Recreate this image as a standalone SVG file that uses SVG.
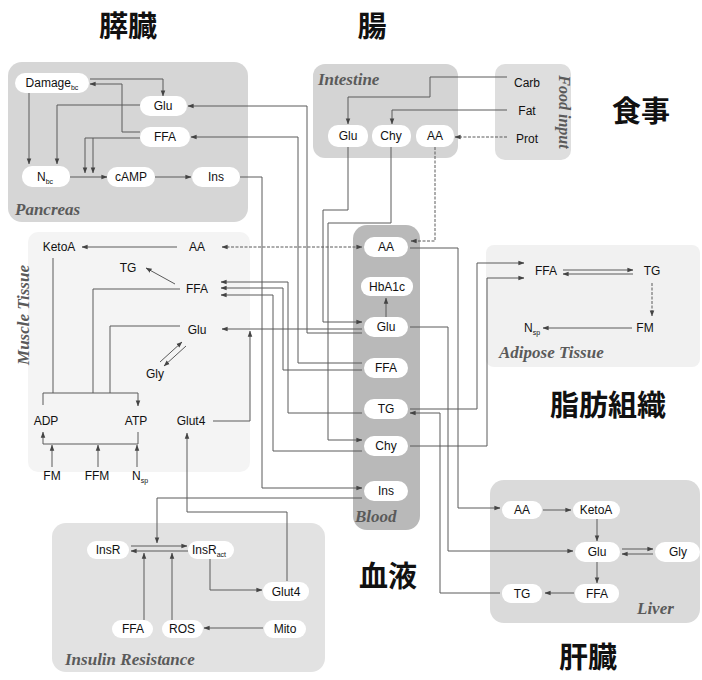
<svg xmlns="http://www.w3.org/2000/svg" width="702" height="680" viewBox="0 0 702 680">
<defs>
<marker id="a" viewBox="0 0 8 8" refX="7.5" refY="4" markerWidth="6" markerHeight="6" orient="auto-start-reverse"><path d="M0,1 L8,4 L0,7z" fill="#444"/></marker>
<style>
.pill{fill:#fff}
.t{font-family:"Liberation Sans",Arial,sans-serif;font-size:12px;fill:#111;text-anchor:middle}
.sub{font-size:7px}
.lbl{font-family:"Liberation Serif","Times New Roman",serif;font-style:italic;font-weight:bold;font-size:17px;fill:#5a5a5a}
.cjk{font-family:"Noto Sans CJK JP","Noto Sans CJK SC",sans-serif;font-weight:bold;font-size:29px;fill:#111;text-anchor:middle}
.c{fill:none;stroke:#5a5a5a;stroke-width:1}
.c2{fill:none;stroke:#5a5a5a;stroke-width:1;stroke-dasharray:3 1.5}
</style>
</defs>
<rect width="702" height="680" fill="#fff"/>

<g id="panels">
<rect x="8" y="62" width="240" height="160" rx="14" fill="#d6d6d6"/>
<rect x="313" y="64" width="145" height="94" rx="12" fill="#d4d4d4"/>
<rect x="495" y="64" width="76" height="96" rx="10" fill="#dedede"/>
<rect x="28" y="232" width="222" height="240" rx="10" fill="#f4f4f4"/>
<rect x="353" y="225" width="67" height="305" rx="14" fill="#b9b9b9"/>
<rect x="486" y="245" width="214" height="122" rx="8" fill="#f1f1f1"/>
<rect x="490" y="480" width="210" height="143" rx="14" fill="#dadada"/>
<rect x="52" y="523" width="273" height="149" rx="14" fill="#e2e2e2"/>
<text class="lbl" x="15" y="215">Pancreas</text>
<text class="lbl" x="318" y="85">Intestine</text>
<text class="lbl" transform="translate(559,112) rotate(90)" text-anchor="middle" style="font-size:16px">Food input</text>
<text class="lbl" transform="translate(29,315) rotate(-90)" text-anchor="middle">Muscle Tissue</text>
<text class="lbl" x="355" y="522">Blood</text>
<text class="lbl" x="499" y="358">Adipose Tissue</text>
<text class="lbl" x="637" y="614">Liver</text>
<text class="lbl" x="65" y="665">Insulin Resistance</text>
</g>

<g id="headings">
<text class="cjk" x="128" y="37">膵臓</text>
<text class="cjk" x="372" y="37">腸</text>
<text class="cjk" x="641" y="122">食事</text>
<text class="cjk" x="608" y="416">脂肪組織</text>
<text class="cjk" x="388" y="587">血液</text>
<text class="cjk" x="588" y="668">肝臓</text>
</g>

<g id="connectors">
<path class="c" d="M90,79 H163 V96" marker-end="url(#a)"/>
<path class="c" d="M140,132 H122 V84 H90" marker-end="url(#a)"/>
<path class="c" d="M29,93 V164" marker-end="url(#a)"/>
<path class="c" d="M140,105 H57 V164" marker-end="url(#a)"/>
<path class="c" d="M140,138 H85 V173" marker-end="url(#a)"/>
<path class="c" d="M93,138 V173" marker-end="url(#a)"/>
<path class="c" d="M70,177 H107" marker-end="url(#a)"/>
<path class="c" d="M155,177 H191" marker-end="url(#a)"/>
<path class="c" d="M507,77 H430 V97 H348 V124" marker-end="url(#a)"/>
<path class="c" d="M507,110 H392 V124" marker-end="url(#a)"/>
<path class="c2" d="M507,137 H455" marker-end="url(#a)"/>
<path class="c" d="M362,333 H307 V106 H188" marker-end="url(#a)"/>
<path class="c" d="M362,363 H298 V137 H191" marker-end="url(#a)"/>
<path class="c" d="M240,177 H262 V488 H362" marker-end="url(#a)"/>
<path class="c" d="M362,498 H157 V543" marker-end="url(#a)"/>
<path class="c" d="M348,147 V210 H323 V322 H362" marker-end="url(#a)"/>
<path class="c" d="M391,147 V223 H328 V440 H362" marker-end="url(#a)"/>
<path class="c2" d="M435,147 V241 H411" marker-end="url(#a)"/>
<path class="c2" d="M222,247 H362" marker-start="url(#a)" marker-end="url(#a)"/>
<path class="c" d="M362,329 H222" marker-end="url(#a)"/>
<path class="c" d="M362,413 H288 V282 H221" marker-end="url(#a)"/>
<path class="c" d="M362,370 H283 V288 H221" marker-end="url(#a)"/>
<path class="c" d="M362,451 H273 V295 H221" marker-end="url(#a)"/>
<path class="c" d="M213,421 H250 V331" marker-end="url(#a)"/>
<path class="c" d="M177,247 H82" marker-end="url(#a)"/>
<path class="c" d="M175,284 L146,268" marker-end="url(#a)"/>
<path class="c" d="M53,258 V393"/>
<path class="c" d="M180,289 H93 V393"/>
<path class="c" d="M180,326 H110 V393"/>
<path class="c" d="M43,405 V393 H138 V406" marker-end="url(#a)"/>
<path class="c" d="M138,432 V444 H43 V432" marker-end="url(#a)"/>
<path class="c" d="M52,467 V445" marker-end="url(#a)"/>
<path class="c" d="M98,467 V445" marker-end="url(#a)"/>
<path class="c" d="M137,467 V445" marker-end="url(#a)"/>
<path class="c" d="M160,362 L182,342" marker-end="url(#a)"/>
<path class="c" d="M186,346 L164,366" marker-end="url(#a)"/>
<path class="c" d="M410,248 H458 V508 H500" marker-end="url(#a)"/>
<path class="c" d="M410,327 H448 V551 H573" marker-end="url(#a)"/>
<path class="c" d="M500,593 H440 V413 H410" marker-end="url(#a)"/>
<path class="c" d="M410,409 H477 V263 H524" marker-end="url(#a)"/>
<path class="c" d="M410,446 H487 V278 H524" marker-end="url(#a)"/>
<path class="c" d="M386,317 V298" marker-end="url(#a)"/>
<path class="c" d="M563,270 H633" marker-end="url(#a)"/>
<path class="c" d="M633,274 H563" marker-end="url(#a)"/>
<path class="c2" d="M652,283 V316" marker-end="url(#a)"/>
<path class="c" d="M632,328 H543" marker-end="url(#a)"/>
<path class="c" d="M543,510 H571" marker-end="url(#a)"/>
<path class="c" d="M597,519 V541" marker-end="url(#a)"/>
<path class="c" d="M622,549 H653" marker-end="url(#a)"/>
<path class="c" d="M653,554 H622" marker-end="url(#a)"/>
<path class="c" d="M597,562 V583" marker-end="url(#a)"/>
<path class="c" d="M574,593 H545" marker-end="url(#a)"/>
<path class="c" d="M131,546 H187" marker-end="url(#a)"/>
<path class="c" d="M188,551 H131" marker-end="url(#a)"/>
<path class="c" d="M144,620 V553" marker-end="url(#a)"/>
<path class="c" d="M172,620 V553" marker-end="url(#a)"/>
<path class="c" d="M210,559 V590 H262" marker-end="url(#a)"/>
<path class="c" d="M263,628 H204" marker-end="url(#a)"/>
<path class="c" d="M287,581 V512 H187 V433" marker-end="url(#a)"/>
</g>

<g id="p-damage"><rect class="pill" x="15" y="73" width="74" height="20" rx="10"/><text class="t" x="52" y="87">Damage<tspan class="sub" dy="3">bc</tspan></text></g>
<g id="p-glu"><rect class="pill" x="140" y="96" width="47" height="20" rx="10"/><text class="t" x="163" y="110">Glu</text></g>
<g id="p-ffa"><rect class="pill" x="140" y="127" width="50" height="20" rx="10"/><text class="t" x="165" y="141">FFA</text></g>
<g id="p-nbc"><rect class="pill" x="22" y="166" width="48" height="21" rx="10"/><text class="t" x="45" y="181">N<tspan class="sub" dy="3">bc</tspan></text></g>
<g id="p-camp"><rect class="pill" x="107" y="167" width="48" height="20" rx="10"/><text class="t" x="131" y="181">cAMP</text></g>
<g id="p-ins"><rect class="pill" x="192" y="167" width="48" height="20" rx="10"/><text class="t" x="216" y="181">Ins</text></g>

<g id="i-glu"><rect class="pill" x="328" y="125" width="40" height="22" rx="10"/><text class="t" x="348" y="140">Glu</text></g>
<g id="i-chy"><rect class="pill" x="372" y="125" width="39" height="22" rx="10"/><text class="t" x="391" y="140">Chy</text></g>
<g id="i-aa"><rect class="pill" x="416" y="125" width="38" height="22" rx="10"/><text class="t" x="435" y="140">AA</text></g>

<g id="f-carb"><text class="t" x="527" y="87">Carb</text></g>
<g id="f-fat"><text class="t" x="527" y="115">Fat</text></g>
<g id="f-prot"><text class="t" x="527" y="143">Prot</text></g>

<g id="m-ketoa"><text class="t" x="59" y="251">KetoA</text></g>
<g id="m-aa"><text class="t" x="197" y="251">AA</text></g>
<g id="m-tg"><text class="t" x="128" y="272">TG</text></g>
<g id="m-ffa"><text class="t" x="197" y="293">FFA</text></g>
<g id="m-glu"><text class="t" x="197" y="334">Glu</text></g>
<g id="m-gly"><text class="t" x="155" y="378">Gly</text></g>
<g id="m-adp"><text class="t" x="46" y="425">ADP</text></g>
<g id="m-atp"><text class="t" x="136" y="425">ATP</text></g>
<g id="m-glut4"><text class="t" x="191" y="425">Glut4</text></g>
<g id="m-fm"><text class="t" x="52" y="480">FM</text></g>
<g id="m-ffm"><text class="t" x="97" y="480">FFM</text></g>
<g id="m-nsp"><text class="t" x="140" y="480">N<tspan class="sub" dy="3">sp</tspan></text></g>

<g id="b-aa"><rect class="pill" x="364" y="237" width="44" height="20" rx="10"/><text class="t" x="386" y="251">AA</text></g>
<g id="b-hba1c"><rect class="pill" x="361" y="277" width="52" height="19" rx="9"/><text class="t" x="387" y="291">HbA1c</text></g>
<g id="b-glu"><rect class="pill" x="364" y="317" width="44" height="20" rx="10"/><text class="t" x="386" y="331">Glu</text></g>
<g id="b-ffa"><rect class="pill" x="364" y="358" width="44" height="20" rx="10"/><text class="t" x="386" y="372">FFA</text></g>
<g id="b-tg"><rect class="pill" x="364" y="399" width="44" height="20" rx="10"/><text class="t" x="386" y="413">TG</text></g>
<g id="b-chy"><rect class="pill" x="364" y="436" width="44" height="20" rx="10"/><text class="t" x="386" y="450">Chy</text></g>
<g id="b-ins"><rect class="pill" x="364" y="481" width="44" height="20" rx="10"/><text class="t" x="386" y="495">Ins</text></g>

<g id="a-ffa"><text class="t" x="546" y="275">FFA</text></g>
<g id="a-tg"><text class="t" x="652" y="275">TG</text></g>
<g id="a-nsp"><text class="t" x="532" y="332">N<tspan class="sub" dy="3">sp</tspan></text></g>
<g id="a-fm"><text class="t" x="645" y="332">FM</text></g>

<g id="l-aa"><rect class="pill" x="502" y="501" width="40" height="18" rx="9"/><text class="t" x="522" y="514">AA</text></g>
<g id="l-ketoa"><rect class="pill" x="573" y="501" width="47" height="18" rx="9"/><text class="t" x="596" y="514">KetoA</text></g>
<g id="l-glu"><rect class="pill" x="575" y="542" width="45" height="20" rx="10"/><text class="t" x="597" y="556">Glu</text></g>
<g id="l-gly"><rect class="pill" x="655" y="542" width="45" height="20" rx="10"/><text class="t" x="678" y="556">Gly</text></g>
<g id="l-tg"><rect class="pill" x="502" y="584" width="40" height="19" rx="9"/><text class="t" x="522" y="598">TG</text></g>
<g id="l-ffa"><rect class="pill" x="575" y="584" width="44" height="19" rx="9"/><text class="t" x="597" y="598">FFA</text></g>

<g id="r-insr"><rect class="pill" x="87" y="541" width="42" height="18" rx="9"/><text class="t" x="108" y="554">InsR</text></g>
<g id="r-insract"><rect class="pill" x="188" y="541" width="46" height="18" rx="9"/><text class="t" x="209" y="554">InsR<tspan class="sub" dy="3">act</tspan></text></g>
<g id="r-glut4"><rect class="pill" x="263" y="582" width="46" height="19" rx="9"/><text class="t" x="286" y="596">Glut4</text></g>
<g id="r-ffa"><rect class="pill" x="112" y="620" width="41" height="18" rx="9"/><text class="t" x="133" y="633">FFA</text></g>
<g id="r-ros"><rect class="pill" x="162" y="620" width="41" height="18" rx="9"/><text class="t" x="182" y="633">ROS</text></g>
<g id="r-mito"><rect class="pill" x="264" y="620" width="42" height="18" rx="9"/><text class="t" x="285" y="633">Mito</text></g>
</svg>
